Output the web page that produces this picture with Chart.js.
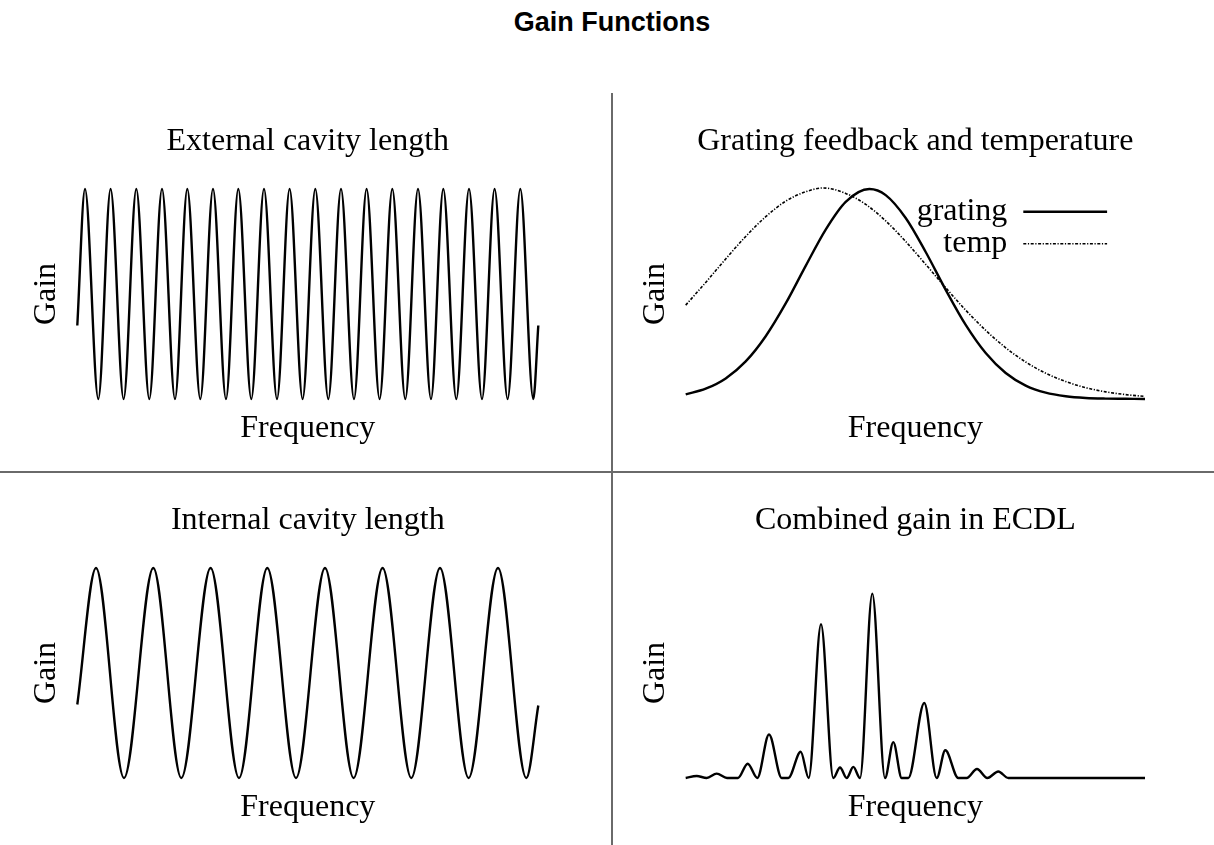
<!DOCTYPE html>
<html>
<head>
<meta charset="utf-8">
<title>Gain Functions</title>
<script src="https://cdn.jsdelivr.net/npm/chart.js@4.4.0/dist/chart.umd.min.js"></script>
<style>
    body { margin: 0; background: #fff; }
    #page { position: relative; width: 1214px; height: 845px; overflow: hidden; }
    #mainTitle {
        position: absolute; left: 5px; top: 9px; width: 1214px;
        text-align: center; color: #000;
        font: bold 27px "Liberation Sans", Arial, sans-serif; line-height: 27px;
    }
    canvas { position: absolute; }
    .rule { position: absolute; background: #6a6a6a; z-index: 2; }
</style>
</head>
<body>
<div id="page">
    <div id="mainTitle">Gain Functions</div>
    <canvas id="extCanvas" width="611" height="382" style="left:0;top:90px"></canvas>
    <canvas id="gratCanvas" width="603" height="382" style="left:611px;top:90px"></canvas>
    <canvas id="intCanvas" width="611" height="373" style="left:0;top:472px"></canvas>
    <canvas id="combCanvas" width="603" height="373" style="left:611px;top:472px"></canvas>
    <div class="rule" style="left:611px;top:93px;width:2px;height:752px"></div>
    <div class="rule" style="left:0;top:471px;width:1214px;height:2px"></div>
</div>
<script>
// x = frequency offset across each plot (peaks / troughs / samples)
const extFreq = [0, 7.7, 21, 33.3, 46.3, 59, 72, 84.7, 97.7, 110, 123, 135.7, 148.7, 161, 174,
    186.7, 199.7, 212.3, 225.3, 238, 251, 263.7, 276.7, 289.3, 302.3, 315, 328, 340.7, 353.7,
    366, 379, 391.7, 404.7, 417.3, 430.3, 443, 456, 461];
const extGain = [-0.3, 1, -1, 1, -1, 1, -1, 1, -1, 1, -1, 1, -1, 1, -1, 1, -1, 1, -1, 1, -1,
    1, -1, 1, -1, 1, -1, 1, -1, 1, -1, 1, -1, 1, -1, 1, -1, -0.3];

const intFreq = [0, 18.7, 46.7, 76, 104, 133.3, 161.7, 190, 218.7, 247.7, 276.3, 305.3, 334,
    362.7, 391.3, 420.7, 449, 461];
const intGain = [-0.3, 1, -1, 1, -1, 1, -1, 1, -1, 1, -1, 1, -1, 1, -1, 1, -1, -0.31];

const gratFreq = [0, 20, 40, 60, 80, 100, 120, 140, 160, 183.7, 200, 220, 240, 260, 280, 300,
    320, 340, 360, 380, 400, 420, 440, 459.3];
const gratGain = [0.022, 0.049, 0.098, 0.179, 0.299, 0.455, 0.634, 0.807, 0.939, 1.0, 0.971,
    0.862, 0.700, 0.520, 0.353, 0.219, 0.124, 0.064, 0.030, 0.013, 0.005, 0.002, 0.001, 0];

const tempFreq = [0, 20, 40, 60, 80, 100, 120, 137.7, 160, 180, 200, 220, 240, 260, 280, 300,
    320, 340, 360, 380, 400, 420, 440, 459.3];
const tempGain = [0.447, 0.555, 0.667, 0.774, 0.868, 0.942, 0.987, 1.005, 0.979, 0.927, 0.848,
    0.750, 0.641, 0.530, 0.423, 0.327, 0.244, 0.176, 0.123, 0.083, 0.054, 0.034, 0.021, 0.012];

const combFreq = [0, 11, 21, 31, 41.3, 52.3, 62, 71.6, 83.3, 96, 102.6, 115, 123, 135.3, 147.6,
    154.3, 161, 167.6, 174.3, 186.6, 199.3, 207.6, 216, 222.6, 238.6, 251, 259.6, 272.6, 281,
    291.3, 301.6, 312.6, 322.6, 459.3];
const combGain = [0, 0.0095, 0, 0.021, 0, 0, 0.068, 0, 0.207, 0, 0, 0.125, 0, 0.732, 0, 0.05,
    0, 0.053, 0, 0.878, 0, 0.171, 0, 0, 0.357, 0, 0.132, 0, 0, 0.043, 0, 0.031, 0, 0];

Chart.defaults.font.family = '"Liberation Serif", "Times New Roman", serif';
Chart.defaults.font.size = 32;
Chart.defaults.color = '#000';
Chart.defaults.animation = false;

const toPoints = (xs, ys) => xs.map((x, i) => ({ x: x, y: ys[i] }));

const curve = (label, xs, ys, extra) => Object.assign({
    label: label,
    data: toPoints(xs, ys),
    borderColor: '#000',
    backgroundColor: 'transparent',
    borderWidth: 2.4,
    pointRadius: 0,
    cubicInterpolationMode: 'monotone',
    fill: false,
    clip: false
}, extra || {});

// moves the in-plot legend to the top right corner where the original has it
const legendSpot = {
    id: 'legendSpot',
    afterLayout(chart, args, opts) {
        const lg = chart.legend;
        if (!lg || opts.right === undefined) return;
        lg.right = opts.right;
        lg.left = opts.right - lg.width;
        lg.top = opts.top;
        lg.bottom = lg.top + lg.height;
    }
};

// legend line samples: take dash and width from the dataset line, not from its points
function lineLabels(chart) {
    const items = Chart.defaults.plugins.legend.labels.generateLabels(chart);
    return items.map(item => {
        const ds = chart.data.datasets[item.datasetIndex];
        item.lineDash = ds.borderDash || [];
        item.lineWidth = ds.borderWidth;
        item.strokeStyle = ds.borderColor;
        return item;
    });
}

function makePanel(id, cfg) {
    return new Chart(document.getElementById(id), {
        type: 'line',
        data: { datasets: cfg.datasets },
        plugins: [legendSpot],
        options: {
            responsive: false,
            devicePixelRatio: 1,
            events: [],
            layout: { padding: cfg.pad },
            plugins: {
                title: {
                    display: true,
                    text: cfg.title,
                    fullSize: false,
                    font: { size: 32, weight: 'normal' },
                    padding: cfg.titlePad
                },
                legend: cfg.legend || { display: false },
                tooltip: { enabled: false },
                legendSpot: cfg.legendSpot || {}
            },
            scales: {
                x: {
                    type: 'linear',
                    min: 0,
                    max: cfg.xMax,
                    ticks: { display: false },
                    grid: { display: false, drawTicks: false },
                    border: { display: false },
                    title: { display: true, text: 'Frequency', font: { size: 32 }, padding: { top: 10.3, bottom: 0 } }
                },
                y: {
                    min: cfg.yMin,
                    max: 1,
                    ticks: { display: false },
                    grid: { display: false, drawTicks: false },
                    border: { display: false },
                    title: { display: true, text: 'Gain', font: { size: 32 }, padding: { top: 7.5, bottom: 11.4 } }
                }
            }
        }
    });
}

makePanel('extCanvas', {
    title: 'External cavity length',
    datasets: [curve('external', extFreq, extGain)],
    xMax: 461, yMin: -1,
    pad: { left: 20, right: 72.7, top: 0, bottom: 24.3 },
    titlePad: { top: 32.3, bottom: 28.3 }
});

makePanel('gratCanvas', {
    title: 'Grating feedback and temperature',
    datasets: [
        curve('grating', gratFreq, gratGain),
        curve('temp', tempFreq, tempGain, { borderWidth: 1.6, borderDash: [3, 1.6, 1.2, 1.6] })
    ],
    xMax: 459.3, yMin: 0,
    pad: { left: 17.4, right: 69, top: 0, bottom: 24.3 },
    titlePad: { top: 32.3, bottom: 28.3 },
    legend: {
        display: true,
        position: 'chartArea',
        align: 'start',
        rtl: true,
        labels: {
            usePointStyle: true,
            pointStyle: 'line',
            pointStyleWidth: 84,
            padding: 0,
            color: '#000',
            font: { size: 32 },
            generateLabels: lineLabels
        }
    },
    legendSpot: { right: 496.3, top: 105.8 }
});

makePanel('intCanvas', {
    title: 'Internal cavity length',
    datasets: [curve('internal', intFreq, intGain)],
    xMax: 461, yMin: -1,
    pad: { left: 20, right: 72.7, top: 0, bottom: 18.3 },
    titlePad: { top: 29.3, bottom: 28.3 }
});

makePanel('combCanvas', {
    title: 'Combined gain in ECDL',
    datasets: [curve('combined', combFreq, combGain)],
    xMax: 459.3, yMin: 0,
    pad: { left: 17.4, right: 69, top: 0, bottom: 18.3 },
    titlePad: { top: 29.3, bottom: 28.3 }
});
</script>
</body>
</html>
